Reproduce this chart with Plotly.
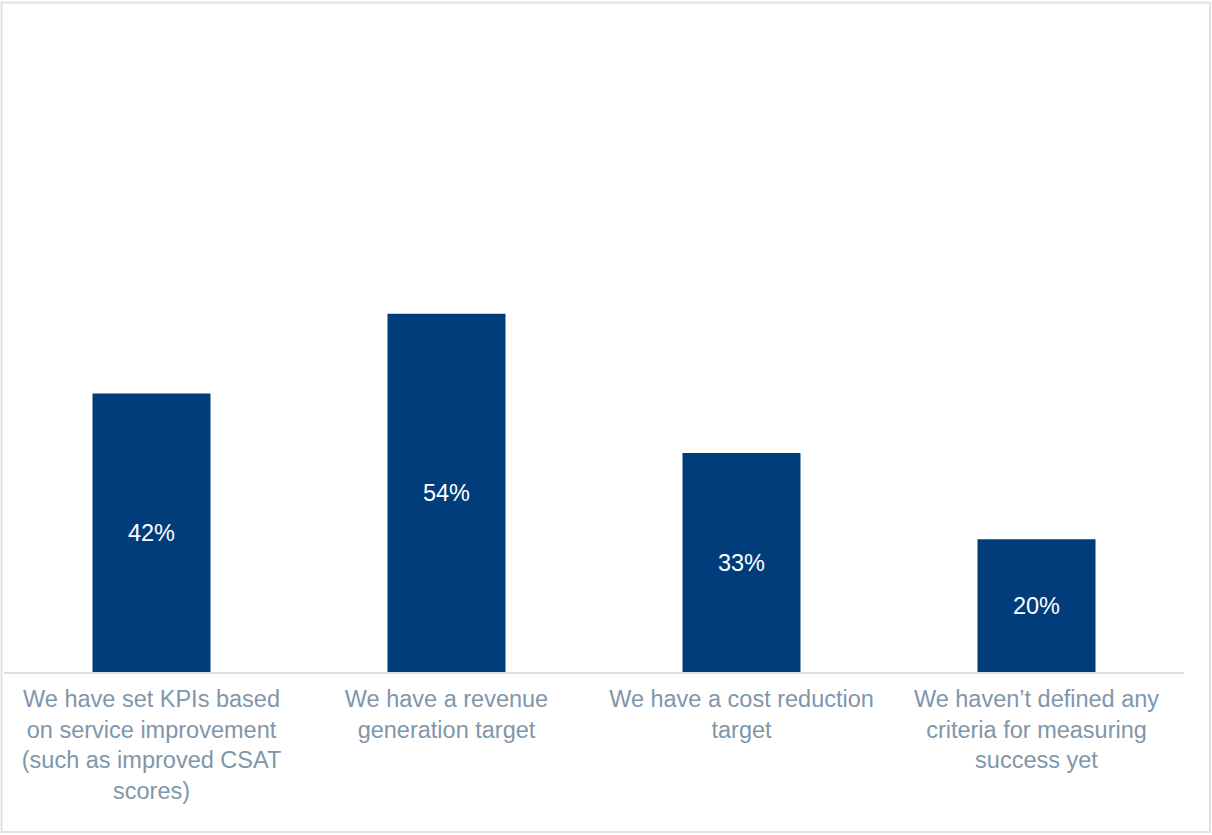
import plotly.graph_objects as go

# Survey responses: how success is measured
categories = [
    "We have set KPIs based<br>on service improvement<br>(such as improved CSAT<br>scores)",
    "We have a revenue<br>generation target",
    "We have a cost reduction<br>target",
    "We haven\u2019t defined any<br>criteria for measuring<br>success yet",
]
values = [42, 54, 33, 20]
labels = [f"{v}%" for v in values]

W, H = 1212, 835
ML, MR, MT, MB = 4, 28, 12, 163
pw = W - ML - MR
ph = H - MT - MB

fig = go.Figure(
    go.Bar(
        x=categories,
        y=values,
        text=labels,
        textposition="inside",
        insidetextanchor="middle",
        textangle=0,
        textfont=dict(family="Liberation Sans, Arial, sans-serif", size=23.5, color="#ffffff"),
        marker=dict(color="#003D7A", line=dict(width=0)),
        width=0.4,
        hoverinfo="skip",
    )
)

# light frame around the whole figure (expressed in paper units)
fig.add_shape(
    type="rect",
    xref="paper", yref="paper",
    x0=(1.5 - ML) / pw, x1=(W - 2 - ML) / pw,
    y0=(H - MB - (H - 3)) / ph, y1=(H - MB - 2.5) / ph,
    line=dict(color="#DEE2E8", width=2),
    fillcolor="rgba(0,0,0,0)",
    layer="below",
)

fig.update_layout(
    width=W,
    height=H,
    margin=dict(l=ML, r=MR, t=MT, b=MB),
    paper_bgcolor="#ffffff",
    plot_bgcolor="#ffffff",
    showlegend=False,
    bargap=0.6,
    font=dict(family="Liberation Sans, Arial, sans-serif"),
)
fig.update_xaxes(
    showline=True,
    linecolor="#DCE0E5",
    linewidth=2,
    ticks="",
    showgrid=False,
    tickfont=dict(size=23.5, color="#8096AB"),
    ticklabelstandoff=5,
)
fig.update_yaxes(
    range=[0, 99.5],
    visible=False,
    showgrid=False,
    zeroline=False,
)

fig.write_html("out.html")
